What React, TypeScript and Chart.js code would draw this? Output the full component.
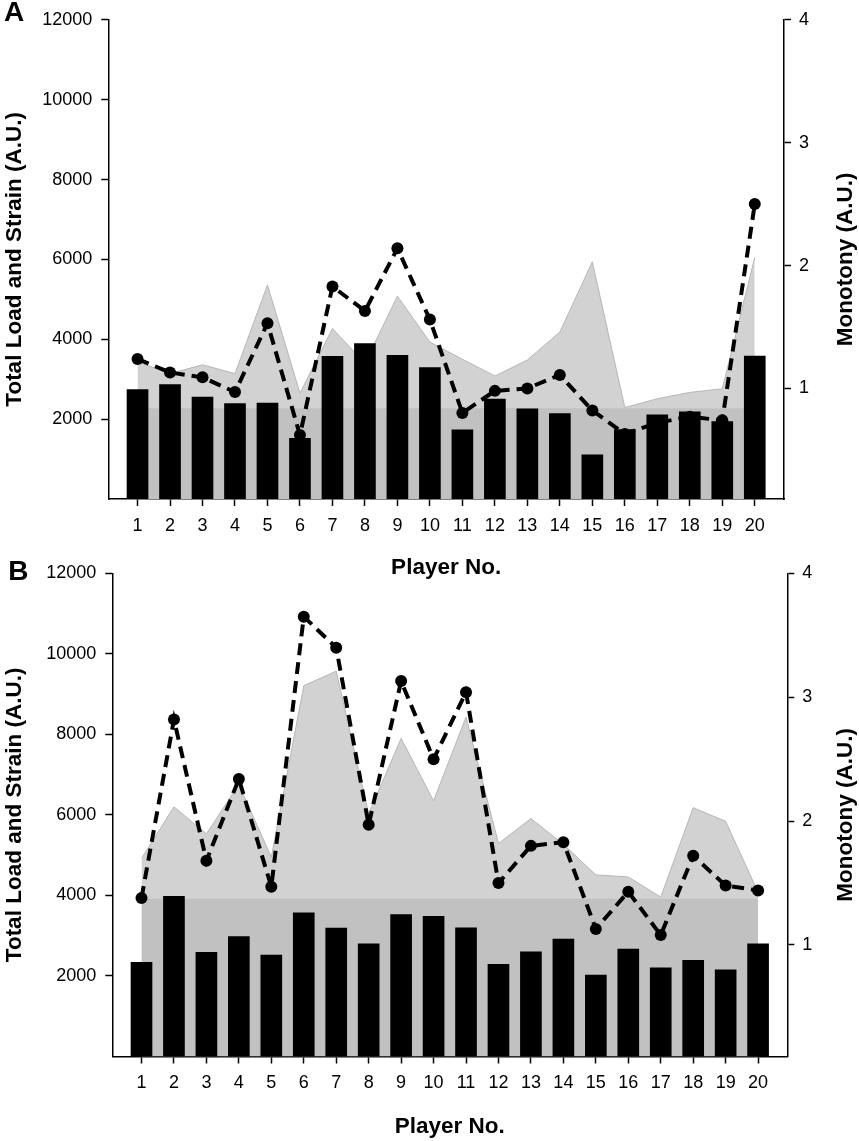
import React, { useEffect, useRef } from "react";
import { Chart, registerables } from "chart.js";

Chart.register(...registerables);

// ---------------- data ----------------
const players = [1, 2, 3, 4, 5, 6, 7, 8, 9, 10, 11, 12, 13, 14, 15, 16, 17, 18, 19, 20];

const loadA = [2740, 2865, 2550, 2390, 2400, 1520, 3570, 3890, 3600, 3290, 1735, 2500, 2260, 2140, 1105, 1740, 2110, 2180, 1940, 3580];
const strainA = [3430, 3140, 3360, 3140, 5360, 2650, 4270, 3400, 5080, 3930, 3500, 3080, 3480, 4180, 5940, 2290, 2510, 2670, 2760, 6050];
const monotonyA = [1.24, 1.13, 1.09, 0.97, 1.53, 0.62, 1.83, 1.63, 2.14, 1.56, 0.8, 0.98, 1.0, 1.11, 0.82, 0.63, 0.72, 0.77, 0.74, 2.5];
const bandA = 2270;

const loadB = [2340, 3975, 2585, 2980, 2520, 3570, 3190, 2795, 3525, 3480, 3195, 2290, 2600, 2915, 2025, 2665, 2200, 2390, 2155, 2795];
const strainB = [4920, 6200, 5530, 6760, 4950, 9210, 9570, 6030, 7900, 6350, 8430, 5290, 5910, 5270, 4510, 4460, 3960, 6180, 5840, 4080];
const monotonyB = [1.38, 2.82, 1.68, 2.34, 1.47, 3.65, 3.4, 1.97, 3.13, 2.5, 3.04, 1.5, 1.8, 1.83, 1.13, 1.43, 1.08, 1.72, 1.48, 1.44];
const bandB = 3920;

const leftTicks = [2000, 4000, 6000, 8000, 10000, 12000];
const rightTicks = [1, 2, 3, 4];

const xTitle = "Player No.";
const leftTitle = "Total Load and Strain (A.U.)";
const rightTitle = "Monotony (A.U.)";

// ---------------- style ----------------
const FONT = '"Liberation Sans", Arial, Helvetica, sans-serif';
const W = 859;

type PanelProps = {
  letter: string;
  load: number[];
  strain: number[];
  monotony: number[];
  band: number;
  top: number;
  height: number;
  plotTop: number;
  plotBottom: number;
  plotLeft: number;
  plotRight: number;
  letterX: number;
  letterY: number;
  leftTitleX: number;
  xTitleOffset: number;
};

function Panel(p: PanelProps) {
  const ref = useRef<HTMLCanvasElement | null>(null);

  useEffect(() => {
    if (!ref.current) return;
    const pts = (vals: number[]) => players.map((x, i) => ({ x, y: vals[i] }));

    const textPlugin = {
      id: "panelText" + p.letter,
      afterDraw(chart: any) {
        const { ctx, chartArea } = chart;
        const cy = (chartArea.top + chartArea.bottom) / 2;
        ctx.save();
        ctx.fillStyle = "#000";
        ctx.textAlign = "center";
        ctx.textBaseline = "middle";
        ctx.font = `bold 28px ${FONT}`;
        ctx.fillText(p.letter, p.letterX, p.letterY);
        ctx.font = `bold 22.5px ${FONT}`;
        ctx.fillText(xTitle, (chartArea.left + chartArea.right) / 2, chartArea.bottom + p.xTitleOffset);
        ctx.save();
        ctx.translate(p.leftTitleX, cy);
        ctx.rotate(-Math.PI / 2);
        ctx.fillText(leftTitle, 0, 0);
        ctx.restore();
        ctx.save();
        ctx.translate(846, cy);
        ctx.rotate(-Math.PI / 2);
        ctx.fillText(rightTitle, 0, 0);
        ctx.restore();
        ctx.restore();
      },
    };

    const axisCommon = {
      offset: false,
      grid: {
        display: true,
        offset: false,
        drawOnChartArea: false,
        drawTicks: true,
        tickLength: 7,
        tickColor: "#000",
        tickWidth: 1.5,
      },
      border: { display: true, color: "#000", width: 1.5 },
    };

    const chart = new Chart(ref.current, {
      type: "line",
      data: {
        datasets: [
          {
            type: "bar",
            data: pts(p.load),
            backgroundColor: "#000",
            borderWidth: 0,
            barThickness: 21,
            xAxisID: "x",
            yAxisID: "y",
            order: 0,
          } as any,
          {
            type: "line",
            data: pts(p.monotony),
            xAxisID: "x",
            yAxisID: "y2",
            borderColor: "#000",
            borderWidth: 4,
            borderDash: [12, 7],
            pointRadius: 6,
            pointBackgroundColor: "#000",
            pointBorderWidth: 0,
            fill: false,
            tension: 0,
            order: 1,
          },
          {
            type: "line",
            data: [
              { x: players[0], y: p.band },
              { x: players[players.length - 1], y: p.band },
            ],
            xAxisID: "x",
            yAxisID: "y",
            backgroundColor: "#c1c1c1",
            borderWidth: 0,
            pointRadius: 0,
            fill: "origin",
            order: 2,
          },
          {
            type: "line",
            data: pts(p.strain),
            xAxisID: "x",
            yAxisID: "y",
            backgroundColor: "#d2d2d2",
            borderColor: "#b6b6b6",
            borderWidth: 1,
            pointRadius: 0,
            fill: "origin",
            tension: 0,
            order: 3,
          },
        ],
      },
      options: {
        animation: false,
        responsive: false,
        maintainAspectRatio: false,
        devicePixelRatio: 1,
        layout: { padding: { top: p.plotTop, left: 0, right: 0, bottom: 0 } },
        plugins: {
          legend: { display: false },
          tooltip: { enabled: false },
        },
        scales: {
          x: {
            type: "linear",
            position: "bottom",
            min: 0.1,
            max: 20.9,
            afterBuildTicks: (s: any) => {
              s.ticks = players.map((v) => ({ value: v }));
            },
            afterFit: (s: any) => {
              s.height = p.height - p.plotBottom;
            },
            ticks: {
              color: "#000",
              font: { family: FONT, size: 18 },
              padding: 9,
              autoSkip: false,
              maxRotation: 0,
              callback: (v: any) => String(v),
            },
            ...axisCommon,
          },
          y: {
            type: "linear",
            position: "left",
            min: 0,
            max: 12000,
            afterBuildTicks: (s: any) => {
              s.ticks = leftTicks.map((v) => ({ value: v }));
            },
            afterFit: (s: any) => {
              s.width = p.plotLeft;
            },
            ticks: {
              color: "#000",
              font: { family: FONT, size: 18 },
              padding: 9,
              callback: (v: any) => String(v),
            },
            ...axisCommon,
          },
          y2: {
            type: "linear",
            position: "right",
            min: 0.1,
            max: 4,
            afterBuildTicks: (s: any) => {
              s.ticks = rightTicks.map((v) => ({ value: v }));
            },
            afterFit: (s: any) => {
              s.width = W - p.plotRight;
            },
            ticks: {
              color: "#000",
              font: { family: FONT, size: 18 },
              padding: 8,
              callback: (v: any) => String(v),
            },
            ...axisCommon,
          },
        },
      } as any,
      plugins: [textPlugin],
    });

    return () => chart.destroy();
  }, []);

  return (
    <canvas
      ref={ref}
      width={W}
      height={p.height}
      style={{ position: "absolute", left: 0, top: p.top, width: W, height: p.height }}
    />
  );
}

export default function App() {
  return (
    <div style={{ position: "absolute", left: 0, top: 0, width: W, height: 1141, background: "#fff" }}>
      <Panel
        letter="A"
        load={loadA}
        strain={strainA}
        monotony={monotonyA}
        band={bandA}
        top={0}
        height={580}
        plotTop={14.7}
        plotBottom={499}
        plotLeft={108.3}
        plotRight={784}
        letterX={14}
        letterY={13.5}
        leftTitleX={14.5}
        xTitleOffset={69}
      />
      <Panel
        letter="B"
        load={loadB}
        strain={strainB}
        monotony={monotonyB}
        band={bandB}
        top={540}
        height={601}
        plotTop={33.3}
        plotBottom={516.5}
        plotLeft={112.3}
        plotRight={787.3}
        letterX={18.3}
        letterY={32.5}
        leftTitleX={15}
        xTitleOffset={70}
      />
    </div>
  );
}
